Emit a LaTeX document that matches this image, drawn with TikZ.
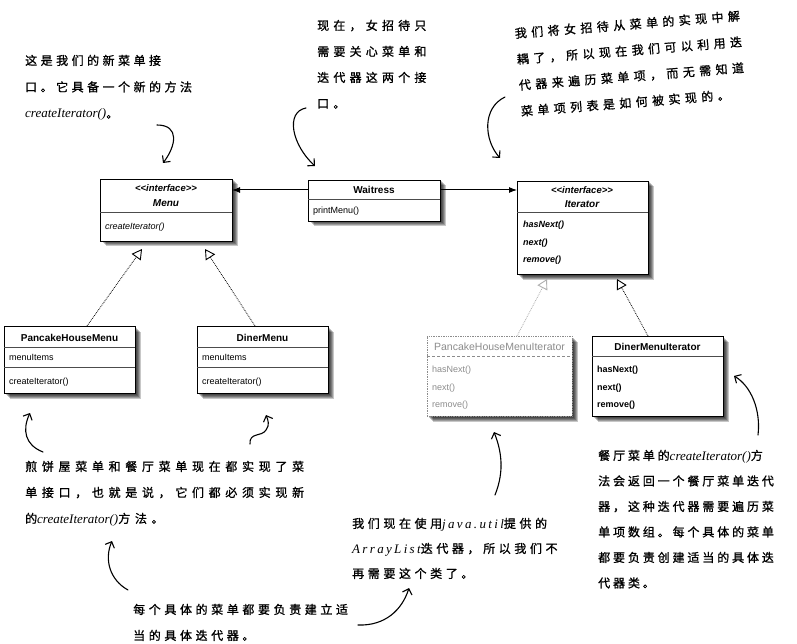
\documentclass[tikz,border=0pt]{standalone}
\usepackage{fontspec}
\setmainfont{Liberation Sans}
\newfontfamily\cjk[FakeBold=1]{Noto Sans CJK SC}
\newfontfamily\latscr{Liberation Serif}
\usetikzlibrary{arrows.meta,calc}
\pgfdeclarelayer{bg}
\pgfdeclarelayer{shadow}
\pgfsetlayers{bg,shadow,main}
\definecolor{ghost}{gray}{0.55}
\newcommand\hw[1]{{\latscr\itshape\fontsize{13}{13}\selectfont #1}}
\newcommand\hwx[1]{{\latscr\itshape\fontsize{13}{13}\selectfont\addfontfeature{LetterSpace=18}#1}}
\newcommand\nf[2]{\fontsize{12}{#1}\selectfont\cjk\addfontfeature{LetterSpace=#2}}
\newcommand\lines[1]{\begin{tabular}[t]{@{}l@{}}#1\end{tabular}}
\tikzset{
  cls/.style={draw=black,line width=0.7pt,fill=white,anchor=north west,inner sep=0,outer sep=0},
  ghostcls/.style={draw=ghost,densely dotted,line width=0.7pt,fill=white,anchor=north west,inner sep=0,outer sep=0},
  shadowpart/.style={fill=black,fill opacity=0.22,draw=none},
  div/.style={draw=black!70,line width=0.5pt},
  title/.style={font=\fontsize{10}{12}\selectfont\bfseries,inner sep=0},
  ititle/.style={font=\fontsize{10}{12}\selectfont\bfseries\itshape,inner sep=0},
  stereo/.style={font=\fontsize{9.5}{11}\selectfont\bfseries\itshape,inner sep=0},
  meth/.style={font=\fontsize{9}{11}\selectfont,anchor=west,inner sep=0},
  imeth/.style={font=\fontsize{9}{11}\selectfont\itshape,anchor=west,inner sep=0},
  bimeth/.style={font=\fontsize{9}{11}\selectfont\bfseries\itshape,anchor=west,inner sep=0},
  bmeth/.style={font=\fontsize{9}{11}\selectfont\bfseries,anchor=west,inner sep=0},
  gmeth/.style={font=\fontsize{9}{11}\selectfont,anchor=west,inner sep=0,text=ghost},
  assoc/.style={line width=1pt,-{Latex[length=8pt,width=6pt]}},
  real/.style={line width=0.8pt,densely dotted,-{Triangle[open,length=10pt,width=11pt,line width=0.9pt]}},
  greal/.style={real,draw=ghost!70},
  hand/.style={line width=1.1pt,line cap=round,-{Straight Barb[length=5pt,width=10pt,line width=1.1pt]}},
  note/.style={anchor=base west,inner sep=0}
}
\begin{document}
\begin{tikzpicture}[x=1pt,y=-1pt]
\useasboundingbox (0,0) rectangle (797,644);
\begin{pgfonlayer}{bg}
\fill[white] (0,0) rectangle (797,644);
\end{pgfonlayer}

% ---------- class boxes ----------
\node[cls,minimum width=132pt,minimum height=62pt] (menu) at (100,179) {};
\draw[div] ([yshift=-33pt]menu.north west) -- ([yshift=-33pt]menu.north east);
\node[stereo] (menuster) at (166,188) {<{}<interface>{}>};
\node[ititle] (menuname) at (166,203) {Menu};
\node[imeth] (menuci) at (105,227) {createIterator()};

\node[cls,minimum width=132pt,minimum height=41pt] (wait) at (308,180) {};
\draw[div] ([yshift=-19pt]wait.north west) -- ([yshift=-19pt]wait.north east);
\node[title] (waitname) at (374,190) {Waitress};
\node[meth] (waitpm) at (313,211) {printMenu()};

\node[cls,minimum width=131pt,minimum height=93pt] (iter) at (517,181) {};
\draw[div] ([yshift=-31pt]iter.north west) -- ([yshift=-31pt]iter.north east);
\node[stereo] (iterster) at (582,190) {<{}<interface>{}>};
\node[ititle] (itername) at (582,204) {Iterator};
\node[bimeth] (iterhn) at (523,225) {hasNext()};
\node[bimeth] (iternx) at (523,243) {next()};
\node[bimeth] (iterrm) at (523,260) {remove()};

\node[cls,minimum width=131pt,minimum height=67pt] (phm) at (4,326) {};
\draw[div] ([yshift=-21pt]phm.north west) -- ([yshift=-21pt]phm.north east);
\draw[div] ([yshift=-41pt]phm.north west) -- ([yshift=-41pt]phm.north east);
\node[title] (phmname) at (69.5,338) {PancakeHouseMenu};
\node[meth] (phmmi) at (9,357) {menuItems};
\node[meth] (phmci) at (9,382) {createIterator()};

\node[cls,minimum width=131pt,minimum height=67pt] (dm) at (197,326) {};
\draw[div] ([yshift=-21pt]dm.north west) -- ([yshift=-21pt]dm.north east);
\draw[div] ([yshift=-41pt]dm.north west) -- ([yshift=-41pt]dm.north east);
\node[title] (dmname) at (262.5,338) {DinerMenu};
\node[meth] (dmmi) at (202,357) {menuItems};
\node[meth] (dmci) at (202,382) {createIterator()};

\node[ghostcls,minimum width=145pt,minimum height=80pt] (phmi) at (427,336) {};
\draw[div,draw=ghost,densely dashed] ([yshift=-20pt]phmi.north west) -- ([yshift=-20pt]phmi.north east);
\node[font=\fontsize{10.5}{12}\selectfont,inner sep=0,text=ghost] (phminame) at (499.5,347) {PancakeHouseMenuIterator};
\node[gmeth] (phmihn) at (432,370) {hasNext()};
\node[gmeth] (phminx) at (432,388) {next()};
\node[gmeth] (phmirm) at (432,405) {remove()};

\node[cls,minimum width=131pt,minimum height=80pt] (dmi) at (592,336) {};
\draw[div] ([yshift=-20pt]dmi.north west) -- ([yshift=-20pt]dmi.north east);
\node[title] (dminame) at (657.5,347) {DinerMenuIterator};
\node[bmeth] (dmihn) at (597,370) {hasNext()};
\node[bmeth] (dminx) at (597,388) {next()};
\node[bmeth] (dmirm) at (597,405) {remove()};

% ---------- shadows ----------
\begin{pgfonlayer}{shadow}
\foreach \b in {menu,wait,iter,phm,dm,phmi,dmi}{
  \foreach \s in {1.5,2.5,3.5,4.5,5.5}{
    \fill[shadowpart] ([shift={(\s pt,-\s pt)}]\b.north west) rectangle ([shift={(\s pt,-\s pt)}]\b.south east);
  }
}
\end{pgfonlayer}

% ---------- relations ----------
\draw[assoc] ([yshift=-10pt]wait.north west) -- ([yshift=-10pt]wait.north west -| menu.east);
\draw[assoc] ([yshift=-10pt]wait.north east) -- ([yshift=-10pt]wait.north east -| iter.west);

\coordinate (phmtip) at (142,249);
\coordinate (dmtip) at (205,249);
\coordinate (phmitip) at (547,279);
\coordinate (dmitip) at (617,279);
\draw[real] ($(phm.north west)+(83,0)$) -- (phmtip);
\draw[real] ($(dm.north west)+(58,0)$) -- (dmtip);
\draw[greal] ($(phmi.north west)+(90,0)$) -- (phmitip);
\draw[real] ($(dmi.north west)+(56,0)$) -- (dmitip);

% ---------- notes ----------
\node[note,font=\nf{26.5}{29}] (n1) at (25,65) {\lines{这是我们的新菜单接\\口。它具备一个新的方法\\\hw{createIterator()}。}};
\node[note,font=\nf{26}{35}] (n2) at (317,30) {\lines{现在，女招待只\\需要关心菜单和\\迭代器这两个接\\口。}};
\node[note,font=\nf{26}{37},rotate=4.5] (n3) at (515,38) {\lines{我们将女招待从菜单的实现中解\\耦了，所以现在我们可以利用迭\\代器来遍历菜单项，而无需知道\\菜单项列表是如何被实现的。}};
\node[note,font=\nf{26}{39}] (n4) at (25,471) {\lines{煎饼屋菜单和餐厅菜单现在都实现了菜\\单接口，也就是说，它们都必须实现新\\的\hw{createIterator()}方法。}};
\node[note,font=\nf{26}{30}] (n5) at (133,614) {\lines{每个具体的菜单都要负责建立适\\当的具体迭代器。}};
\node[note,font=\nf{25}{30}] (n6) at (352,528) {\lines{我们现在使用\hwx{java.util}提供的\\\hwx{ArrayList}迭代器，所以我们不\\再需要这个类了。}};
\node[note,font=\nf{25.5}{24}] (n7) at (598,460) {\lines{餐厅菜单的\hw{createIterator()}方\\法会返回一个餐厅菜单迭代\\器，这种迭代器需要遍历菜\\单项数组。每个具体的菜单\\都要负责创建适当的具体迭\\代器类。}};

% ---------- hand-drawn arrows ----------
\coordinate (h1s) at (157,125); \coordinate (h1e) at (163,163);
\draw[hand] (h1s) .. controls (180,125) and (176,146) .. (h1e);
\coordinate (h2s) at (306,108); \coordinate (h2e) at (315,166);
\draw[hand] (h2s) .. controls (285,112) and (292,145) .. (h2e);
\coordinate (h3s) at (505,97); \coordinate (h3e) at (500,158);
\draw[hand] (h3s) .. controls (482,108) and (484,140) .. (h3e);
\coordinate (h4s) at (43,452); \coordinate (h4e) at (30,413);
\draw[hand] (h4s) .. controls (25,445) and (22,430) .. (h4e);
\coordinate (h5s) at (250,444); \coordinate (h5m) at (266,430); \coordinate (h5e) at (266,415);
\draw[hand] (h5s) .. controls (249,432) and (262,437) .. (h5m) .. controls (270,425) and (268,420) .. (h5e);
\coordinate (h6s) at (128,590); \coordinate (h6e) at (112,541);
\draw[hand] (h6s) .. controls (110,580) and (104,560) .. (h6e);
\coordinate (h7s) at (358,625); \coordinate (h7e) at (409,588);
\draw[hand] (h7s) .. controls (385,626) and (402,610) .. (h7e);
\coordinate (h8s) at (495,495); \coordinate (h8e) at (494,432);
\draw[hand] (h8s) .. controls (505,470) and (501,450) .. (h8e);
\coordinate (h9s) at (758,435); \coordinate (h9e) at (734,376);
\draw[hand] (h9s) .. controls (761,410) and (751,386) .. (h9e);
\end{tikzpicture}
\end{document}
